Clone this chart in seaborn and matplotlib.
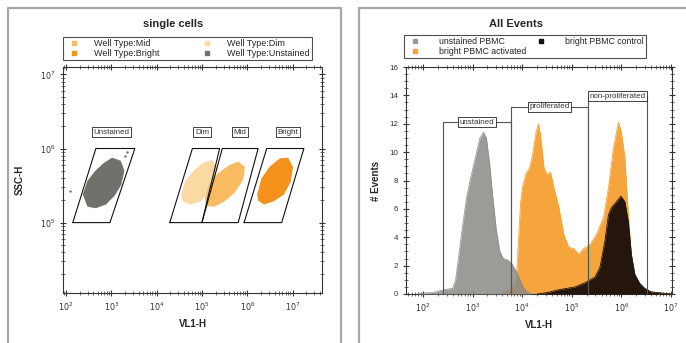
import matplotlib
matplotlib.use("Agg")
import matplotlib.pyplot as plt
import matplotlib.ticker as mticker
from matplotlib.lines import Line2D
import numpy as np
import seaborn as sns

sns.set_style("ticks")
plt.rcParams["font.family"] = ["Liberation Sans", "DejaVu Sans"]

# ---- 左图: single cells (log10 坐标) ----
unstained_blob_x = [2.38, 2.48, 2.66, 2.84, 3.02, 3.20, 3.28, 3.21, 3.07, 2.88, 2.66, 2.48]
unstained_blob_y = [5.38, 5.56, 5.70, 5.80, 5.87, 5.83, 5.70, 5.51, 5.37, 5.25, 5.20, 5.22]
dim_blob_x = [4.55, 4.64, 4.83, 5.02, 5.21, 5.32, 5.28, 5.14, 4.96, 4.74, 4.59]
dim_blob_y = [5.38, 5.56, 5.70, 5.80, 5.84, 5.75, 5.58, 5.41, 5.29, 5.25, 5.29]
mid_blob_x = [5.08, 5.17, 5.36, 5.58, 5.80, 5.94, 5.90, 5.72, 5.49, 5.27, 5.10]
mid_blob_y = [5.34, 5.52, 5.66, 5.76, 5.82, 5.75, 5.58, 5.41, 5.29, 5.22, 5.23]
bright_blob_x = [6.23, 6.32, 6.50, 6.72, 6.90, 7.00, 6.95, 6.80, 6.57, 6.37, 6.25]
bright_blob_y = [5.38, 5.59, 5.75, 5.86, 5.87, 5.75, 5.55, 5.38, 5.29, 5.25, 5.30]
stray_x = [2.09, 3.35, 3.30, 2.95]
stray_y = [5.42, 5.95, 5.90, 5.47]

gate_names = ["Unstained", "Dim", "Mid", "Bright"]
gate_x = [[2.15, 2.97, 3.52, 2.66, 2.15],
          [4.29, 5.00, 5.39, 4.79, 4.29],
          [5.00, 5.80, 6.24, 5.45, 5.00],
          [5.93, 6.76, 7.25, 6.43, 5.93]]
gate_y = [5.0, 5.0, 6.0, 6.0, 5.0]
gate_label_x = [3.0, 5.0, 5.84, 6.9]
gate_label_y = 6.22

# ---- 右图: All Events 直方图 ----
unstained_x = [1.9, 2.2, 2.42, 2.6, 2.66, 2.72, 2.8, 2.88, 2.95, 3.05, 3.15, 3.22, 3.28,
               3.35, 3.41, 3.48, 3.55, 3.62, 3.7, 3.78, 3.88, 3.96, 4.02, 4.1, 4.2]
unstained_y = [0.05, 0.1, 0.3, 0.4, 1.0, 2.6, 4.8, 6.8, 8.0, 9.5, 11.0, 11.4, 11.0,
               9.0, 6.8, 4.5, 3.0, 2.5, 2.4, 2.2, 1.6, 1.0, 0.5, 0.15, 0.0]
activated_x = [3.6, 3.8, 3.88, 3.93, 3.97, 4.01, 4.08, 4.15, 4.21, 4.28, 4.33, 4.37, 4.44,
               4.5, 4.57, 4.64, 4.74, 4.84, 4.94, 5.04, 5.14, 5.24, 5.37, 5.5, 5.64, 5.74,
               5.84, 5.94, 6.0, 6.07, 6.14, 6.2, 6.27, 6.4, 6.6, 6.8, 7.0]
activated_y = [0.1, 0.4, 0.8, 4.0, 6.5, 7.6, 8.5, 8.9, 9.8, 11.4, 12.0, 11.2, 8.9,
               8.4, 8.6, 7.5, 6.1, 4.2, 3.3, 3.2, 2.8, 3.2, 3.5, 4.2, 5.4, 7.5,
               10.3, 12.1, 11.4, 9.6, 5.6, 2.8, 1.2, 0.4, 0.15, 0.05, 0.0]
control_x = [4.3, 4.5, 4.74, 5.07, 5.27, 5.37, 5.47, 5.57, 5.67, 5.74, 5.8, 5.9, 5.99,
             6.07, 6.14, 6.2, 6.27, 6.37, 6.47, 6.6, 6.87, 7.0]
control_y = [0.0, 0.1, 0.3, 0.5, 0.8, 1.0, 1.2, 1.9, 3.8, 5.6, 6.1, 6.5, 6.9,
             6.5, 5.1, 2.8, 1.4, 0.75, 0.4, 0.15, 0.05, 0.0]

hist_gate_names = ["unstained", "proliferated", "non-proliferated"]
hist_gate_lo = [2.40, 3.78, 5.33]
hist_gate_hi = [3.78, 5.33, 6.52]
hist_gate_top = [12.1, 13.2, 13.95]

GRAY_DOT = "#6f716b"
DIM = "#fbd9a3"
MID = "#f8bb62"
BRIGHT = "#f4921c"
HIST_GRAY = "#8a8a86"
HIST_ORANGE = "#f5a53c"
HIST_BLACK = "#24160c"

W, H = 686, 343
fig = plt.figure(figsize=(W / 100, H / 100), dpi=100)


def fx(px):
    return px / W


def fy(py):
    return 1 - py / H


# 灰色面板边框
frame_kw = dict(color="#a8a8a8", lw=1.6, transform=fig.transFigure)
fig.add_artist(Line2D([fx(8), fx(8), fx(341), fx(341)], [0, fy(8), fy(8), 0], **frame_kw))
fig.add_artist(Line2D([fx(359), fx(359), 1.01], [0, fy(8), fy(8)], **frame_kw))


def style_axes(ax):
    for s in ax.spines.values():
        s.set_linewidth(0.8)
        s.set_color("#333333")
    ax.tick_params(which="both", direction="inout", top=True, right=True,
                   labelsize=5.8, colors="#333333", pad=3)
    ax.tick_params(which="major", length=5, width=0.8)
    ax.tick_params(which="minor", length=2.5, width=0.5)


def log_fmt(v, pos):
    return r"$10^{%d}$" % round(np.log10(v))


# ---- 左图 ----
ax1 = fig.add_axes([fx(63), fy(293), fx(322) - fx(63), fy(67) - fy(293)])
ax1.set_xscale("log")
ax1.set_yscale("log")
ax1.set_xlim(10 ** 1.934, 10 ** 7.65)
ax1.set_ylim(10 ** 4.05, 10 ** 7.1)

for bx, by, c in [(unstained_blob_x, unstained_blob_y, GRAY_DOT),
                  (dim_blob_x, dim_blob_y, DIM),
                  (mid_blob_x, mid_blob_y, MID),
                  (bright_blob_x, bright_blob_y, BRIGHT)]:
    ax1.fill(10 ** np.array(bx), 10 ** np.array(by), color=c, lw=0.6, ec=c, zorder=2)
sns.scatterplot(x=10 ** np.array(stray_x), y=10 ** np.array(stray_y), color=GRAY_DOT,
                s=3, linewidth=0, ax=ax1, zorder=2)

for name, gx, lx in zip(gate_names, gate_x, gate_label_x):
    ax1.plot(10 ** np.array(gx), 10 ** np.array(gate_y), color="#111111", lw=0.8, zorder=3)
    ax1.text(10 ** lx, 10 ** gate_label_y, name, ha="center", va="center", fontsize=5.8,
             color="#333333",
             bbox=dict(boxstyle="square,pad=0.2", fc="white", ec="#222222", lw=0.6))

ax1.xaxis.set_major_locator(mticker.LogLocator(base=10, numticks=10))
ax1.yaxis.set_major_locator(mticker.LogLocator(base=10, numticks=10))
ax1.xaxis.set_major_formatter(mticker.FuncFormatter(log_fmt))
ax1.yaxis.set_major_formatter(mticker.FuncFormatter(log_fmt))
style_axes(ax1)
ax1.set_xlabel("VL1-H", fontsize=7, fontweight="bold", labelpad=4)
ax1.set_ylabel("SSC-H", fontsize=7, fontweight="bold", labelpad=11)
fig.text(fx(173), fy(24), "single cells", ha="center", va="center",
         fontsize=8, fontweight="bold")

left_handles = [
    Line2D([], [], marker="s", ls="", ms=3.5, color=MID, label="Well Type:Mid"),
    Line2D([], [], marker="s", ls="", ms=3.5, color=BRIGHT, label="Well Type:Bright"),
    Line2D([], [], marker="s", ls="", ms=3.5, color=DIM, label="Well Type:Dim"),
    Line2D([], [], marker="s", ls="", ms=3.5, color=GRAY_DOT, label="Well Type:Unstained"),
]
leg1 = fig.legend(handles=left_handles, ncol=2, loc="center", mode="expand",
                  bbox_to_anchor=(fx(63), fy(60), fx(312) - fx(63), fy(37) - fy(60)),
                  fontsize=6.5, frameon=True, fancybox=False, borderpad=0.25,
                  labelspacing=0.1, handletextpad=1.2, borderaxespad=0)
leg1.get_frame().set_edgecolor("#222222")
leg1.get_frame().set_linewidth(0.8)

# ---- 右图 ----
ax2 = fig.add_axes([fx(406), fy(294), fx(672) - fx(406), fy(67) - fy(294)])
ax2.set_xscale("log")
ax2.set_xlim(10 ** 1.66, 10 ** 7.02)
ax2.set_ylim(0, 16)

for hx, hy, c, a, z in [(activated_x, activated_y, HIST_ORANGE, 1.0, 2),
                        (unstained_x, unstained_y, HIST_GRAY, 0.85, 3),
                        (control_x, control_y, HIST_BLACK, 1.0, 4)]:
    xs = 10 ** np.array(hx)
    ax2.fill_between(xs, hy, 0, color=c, alpha=a, lw=0, zorder=z)
    sns.lineplot(x=xs, y=hy, color=c, alpha=a, lw=0.6, ax=ax2, zorder=z)

for name, lo, hi, top in zip(hist_gate_names, hist_gate_lo, hist_gate_hi, hist_gate_top):
    ax2.plot([10 ** lo, 10 ** lo, 10 ** hi, 10 ** hi], [0, top, top, 0],
             color="#555555", lw=0.8, zorder=5)
    ax2.text(10 ** ((lo + hi) / 2), top, name, ha="center", va="center", fontsize=5.8,
             color="#333333", zorder=6,
             bbox=dict(boxstyle="square,pad=0.2", fc="white", ec="#222222", lw=0.6))

ax2.xaxis.set_major_locator(mticker.LogLocator(base=10, numticks=10))
ax2.xaxis.set_major_formatter(mticker.FuncFormatter(log_fmt))
ax2.yaxis.set_major_locator(mticker.MultipleLocator(2))
ax2.yaxis.set_minor_locator(mticker.MultipleLocator(0.5))
style_axes(ax2)
ax2.set_xlabel("VL1-H", fontsize=7, fontweight="bold", labelpad=4)
ax2.set_ylabel("# Events", fontsize=7, fontweight="bold", labelpad=6)
fig.text(fx(516), fy(24), "All Events", ha="center", va="center",
         fontsize=8, fontweight="bold")

right_handles = [
    Line2D([], [], marker="s", ls="", ms=3.5, color="#9a9a9a", label="unstained PBMC"),
    Line2D([], [], marker="s", ls="", ms=3.5, color=HIST_ORANGE, label="bright PBMC activated"),
    Line2D([], [], marker="s", ls="", ms=3.5, color="#111111", label="bright PBMC control"),
]
leg2 = fig.legend(handles=right_handles, ncol=2, loc="center", mode="expand",
                  bbox_to_anchor=(fx(404), fy(56), fx(646) - fx(404), fy(37) - fy(56)),
                  fontsize=6.3, frameon=True, fancybox=False, borderpad=0.25,
                  labelspacing=0.1, handletextpad=1.8, borderaxespad=0)
leg2.get_frame().set_edgecolor("#222222")
leg2.get_frame().set_linewidth(0.8)

fig.savefig("out.png", dpi=100)
